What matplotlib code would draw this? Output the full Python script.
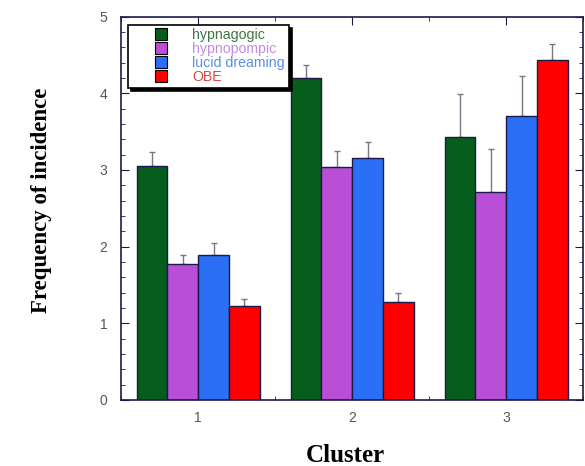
import numpy as np
import matplotlib.pyplot as plt
from matplotlib.lines import Line2D
from matplotlib.ticker import MultipleLocator

clusters = [1, 2, 3]
series = ['hypnagogic', 'hypnopompic', 'lucid dreaming', 'OBE']
hypnagogic = [3.05, 4.20, 3.43]
hypnopompic = [1.77, 3.04, 2.71]
lucid = [1.89, 3.16, 3.71]
obe = [1.22, 1.28, 4.44]
err_hypnagogic = [0.19, 0.17, 0.56]
err_hypnopompic = [0.12, 0.21, 0.57]
err_lucid = [0.16, 0.20, 0.52]
err_obe = [0.09, 0.12, 0.20]

colors = ['#075e1c', '#b94fd6', '#2a6ff5', '#fe0000']
text_colors = ['#3f7449', '#c48be0', '#5b8de8', '#d24a4a']
edge = '#1a1a4a'

values = [hypnagogic, hypnopompic, lucid, obe]
errors = [err_hypnagogic, err_hypnopompic, err_lucid, err_obe]

fig = plt.figure(figsize=(5.85, 4.66), dpi=100)
ax = fig.add_axes([0.207, 0.142, 0.79, 0.822])

w = 0.2
x = np.array(clusters, dtype=float)
for i, (vals, errs) in enumerate(zip(values, errors)):
    pos = x + (i - 1.5) * w
    ax.bar(pos, vals, width=w, color=colors[i], edgecolor=edge, linewidth=1.0, zorder=2)
    ax.errorbar(pos, vals, yerr=[np.zeros(len(errs)), errs], fmt='none',
                ecolor='#777788', elinewidth=1.0, capsize=2, capthick=1.0, zorder=1)

ax.set_xlim(0.5, 3.5)
ax.set_ylim(0, 5)
ax.set_xticks(clusters)
ax.xaxis.set_minor_locator(MultipleLocator(0.5))
ax.yaxis.set_major_locator(MultipleLocator(1))
ax.yaxis.set_minor_locator(MultipleLocator(0.2))
ax.tick_params(which='both', direction='in', top=True, right=True, colors=edge,
               labelcolor='#555555', labelsize=10)
ax.tick_params(which='major', length=6)
ax.tick_params(which='minor', length=3)
for lab in ax.get_xticklabels() + ax.get_yticklabels():
    lab.set_family('Liberation Sans')
ax.tick_params(axis='x', pad=8)
ax.tick_params(axis='y', pad=10)
for s in ax.spines.values():
    s.set_color(edge)
    s.set_linewidth(1.2)

ax.set_ylabel('Frequency of incidence', family='Liberation Serif', fontweight='bold',
              fontsize=16.5)
ax.yaxis.set_label_coords(-0.15, 0.52)
ax.set_xlabel('Cluster', family='Liberation Serif', fontweight='bold', fontsize=18)
ax.xaxis.set_label_coords(0.485, -0.115)

handles = [Line2D([], [], linestyle='none', marker='s', markersize=8.5,
                  markerfacecolor=c, markeredgecolor='black', markeredgewidth=0.8)
           for c in colors]
leg = ax.legend(handles, series, loc='upper left', bbox_to_anchor=(0.015, 0.979),
                fancybox=False, shadow={'color': 'black', 'alpha': 1, 'ox': 2.5, 'oy': -2.5},
                edgecolor='black', handlelength=4.2, labelspacing=0.0,
                borderpad=0.25, handletextpad=0.1, borderaxespad=0,
                prop={'family': 'Liberation Sans', 'size': 10.2})
leg.get_frame().set_linewidth(1.2)
for t, c in zip(leg.get_texts(), text_colors):
    t.set_color(c)

fig.savefig('out.png', dpi=100)
